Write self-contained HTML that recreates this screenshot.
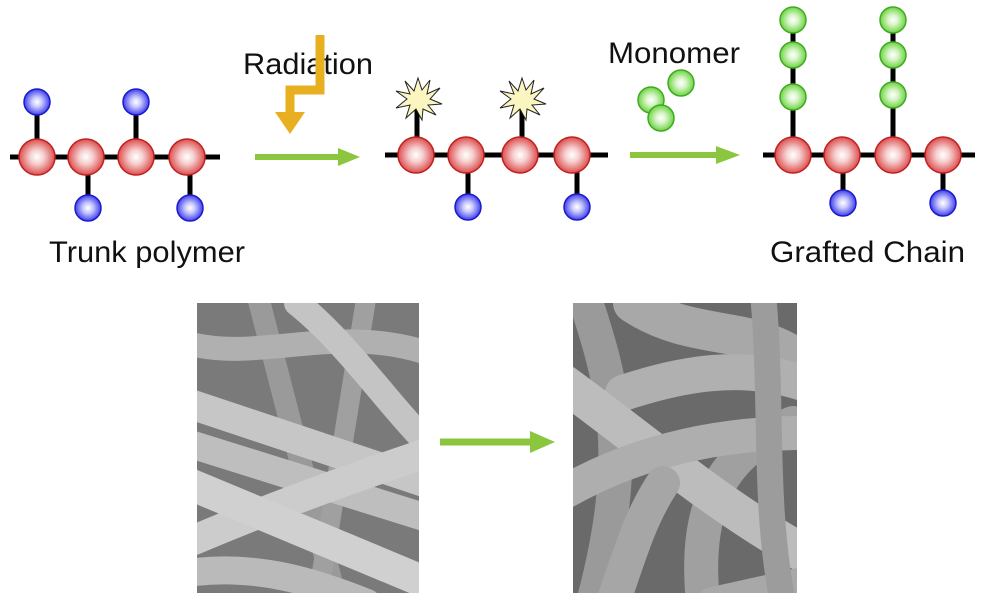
<!DOCTYPE html>
<html><head><meta charset="utf-8"><style>
html,body{margin:0;padding:0;background:#fff;}
svg{display:block;}
text{font-family:"Liberation Sans",Arial,sans-serif;fill:#111;}
</style></head><body>
<svg width="982" height="596" viewBox="0 0 982 596" xmlns="http://www.w3.org/2000/svg">
<defs>
<radialGradient id="r" cx="50%" cy="50%" r="55%"><stop offset="0" stop-color="#fff"/><stop offset="0.35" stop-color="#f6d0d0"/><stop offset="1" stop-color="#d83a3a"/></radialGradient>
<radialGradient id="b" cx="50%" cy="50%" r="55%"><stop offset="0" stop-color="#fff"/><stop offset="0.35" stop-color="#c8c8ff"/><stop offset="1" stop-color="#2a2ae8"/></radialGradient>
<radialGradient id="g" cx="50%" cy="50%" r="55%"><stop offset="0" stop-color="#fff"/><stop offset="0.35" stop-color="#d8f5c8"/><stop offset="1" stop-color="#5ccf2e"/></radialGradient>
<g id="R"><circle r="18" fill="url(#r)" stroke="#c02020" stroke-width="1.5"/></g>
<g id="B"><circle r="13" fill="url(#b)" stroke="#1a1acc" stroke-width="1.5"/></g>
<g id="G"><circle r="13" fill="url(#g)" stroke="#3faa20" stroke-width="1.5"/></g>
<polygon id="S" points="0,-22 4,-10 12,-20 9,-6 22,-12 12,-1 24,4 10,5 18,15 5,9 4,20 -2,9 -12,18 -8,5 -22,8 -11,-1 -22,-9 -8,-6 -13,-19 -4,-9" fill="#fbf6c0" stroke="#222" stroke-width="1"/>
</defs>

<!-- chain 1 -->
<g stroke="#000" stroke-width="5">
<line x1="10" y1="157" x2="220" y2="157"/>
<line x1="37" y1="102" x2="37" y2="157"/><line x1="136" y1="102" x2="136" y2="157"/>
<line x1="88" y1="157" x2="88" y2="208"/><line x1="190" y1="157" x2="190" y2="208"/>
</g>
<use href="#B" x="37" y="102"/><use href="#B" x="136" y="102"/>
<use href="#B" x="88" y="208"/><use href="#B" x="190" y="208"/>
<use href="#R" x="37" y="157"/><use href="#R" x="86" y="157"/><use href="#R" x="136" y="157"/><use href="#R" x="187" y="157"/>
<text x="49" y="262" font-size="30" textLength="196" lengthAdjust="spacingAndGlyphs">Trunk polymer</text>

<!-- radiation -->
<text x="243" y="74" font-size="30" textLength="130" lengthAdjust="spacingAndGlyphs">Radiation</text>
<polyline points="320,35 320,90 290,90 290,115" fill="none" stroke="#e8b020" stroke-width="9"/>
<polygon points="275,112 305,112 290,134" fill="#e8b020"/>
<line x1="255" y1="157" x2="340" y2="157" stroke="#8cc63f" stroke-width="6"/>
<polygon points="338,148 360,157 338,166" fill="#8cc63f"/>

<!-- chain 2 -->
<g stroke="#000" stroke-width="5">
<line x1="385" y1="155" x2="608" y2="155"/>
<line x1="417" y1="100" x2="417" y2="155"/><line x1="522" y1="100" x2="522" y2="155"/>
<line x1="468" y1="155" x2="468" y2="207"/><line x1="577" y1="155" x2="577" y2="207"/>
</g>
<use href="#S" x="418" y="100"/><use href="#S" x="522" y="100"/>
<use href="#B" x="468" y="207"/><use href="#B" x="577" y="207"/>
<use href="#R" x="416" y="155"/><use href="#R" x="466" y="155"/><use href="#R" x="520" y="155"/><use href="#R" x="572" y="155"/>

<!-- monomer -->
<text x="608" y="63" font-size="30" textLength="132" lengthAdjust="spacingAndGlyphs">Monomer</text>
<use href="#G" x="651" y="100"/><use href="#G" x="681" y="83"/><use href="#G" x="661" y="118"/>
<line x1="630" y1="155" x2="718" y2="155" stroke="#8cc63f" stroke-width="6"/>
<polygon points="716,146 740,155 716,164" fill="#8cc63f"/>

<!-- chain 3 -->
<g stroke="#000" stroke-width="5">
<line x1="763" y1="155" x2="975" y2="155"/>
<line x1="793" y1="20" x2="793" y2="155"/><line x1="893" y1="20" x2="893" y2="155"/>
<line x1="843" y1="155" x2="843" y2="203"/><line x1="943" y1="155" x2="943" y2="203"/>
</g>
<use href="#G" x="793" y="20"/><use href="#G" x="793" y="55"/><use href="#G" x="793" y="97"/>
<use href="#G" x="893" y="20"/><use href="#G" x="893" y="55"/><use href="#G" x="893" y="95"/>
<use href="#B" x="843" y="203"/><use href="#B" x="943" y="203"/>
<use href="#R" x="793" y="155"/><use href="#R" x="842" y="155"/><use href="#R" x="893" y="155"/><use href="#R" x="943" y="155"/>
<text x="770" y="262" font-size="30" textLength="195" lengthAdjust="spacingAndGlyphs">Grafted Chain</text>

<!-- SEM left -->
<svg x="197" y="303" width="222" height="290" viewBox="0 0 222 290">
<rect width="222" height="290" fill="#7a7a7a"/>
<g stroke-linecap="round" fill="none">
<path d="M60 -10 L140 300" stroke="#9a9a9a" stroke-width="22"/>
<path d="M170 -10 L120 300" stroke="#a0a0a0" stroke-width="20"/>
<path d="M-10 40 C60 60 140 20 230 50" stroke="#b0b0b0" stroke-width="24"/>
<path d="M100 0 C150 40 190 100 230 140" stroke="#c4c4c4" stroke-width="26"/>
<path d="M-10 100 L230 180" stroke="#c6c6c6" stroke-width="30"/>
<path d="M-10 140 L230 215" stroke="#bebebe" stroke-width="28"/>
<path d="M-10 240 C60 210 140 180 230 150" stroke="#cccccc" stroke-width="30"/>
<path d="M-10 180 L230 280" stroke="#d0d0d0" stroke-width="32"/>
<path d="M-10 270 C60 260 120 280 170 300" stroke="#bababa" stroke-width="28"/>
</g>
</svg>

<line x1="440" y1="442" x2="532" y2="442" stroke="#8cc63f" stroke-width="7"/>
<polygon points="530,431 555,442 530,453" fill="#8cc63f"/>

<!-- SEM right -->
<svg x="573" y="303" width="224" height="290" viewBox="0 0 224 290">
<rect width="224" height="290" fill="#6a6a6a"/>
<g stroke-linecap="round" fill="none">
<path d="M10 -10 C40 80 60 150 20 300" stroke="#9a9a9a" stroke-width="34"/>
<path d="M60 0 C120 40 180 20 230 60" stroke="#a8a8a8" stroke-width="40"/>
<path d="M50 90 C110 70 170 60 230 80" stroke="#b0b0b0" stroke-width="36"/>
<path d="M130 300 C120 200 150 150 220 120" stroke="#a0a0a0" stroke-width="34"/>
<path d="M-10 80 C60 130 140 200 230 250" stroke="#bcbcbc" stroke-width="38"/>
<path d="M-10 190 C60 150 140 130 230 130" stroke="#aeaeae" stroke-width="34"/>
<path d="M40 300 C60 240 70 210 90 180" stroke="#a6a6a6" stroke-width="34"/>
<path d="M140 300 L230 280" stroke="#a8a8a8" stroke-width="32"/>
<path d="M190 -10 C200 100 190 200 210 300" stroke="#9c9c9c" stroke-width="26"/>
</g>
</svg>
</svg>
</body></html>
